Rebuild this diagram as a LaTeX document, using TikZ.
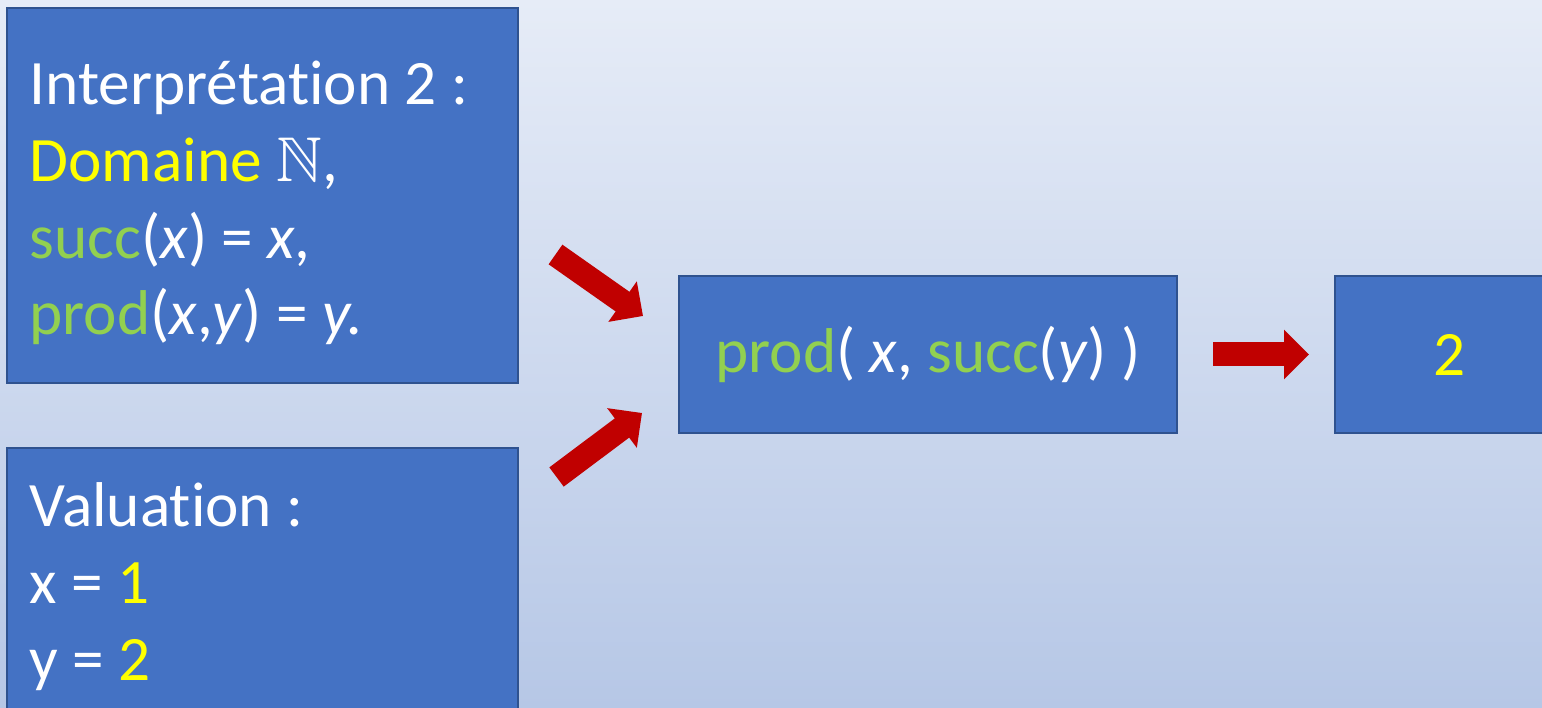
\documentclass[tikz,border=0pt]{standalone}
\usepackage{fontspec}
\setmainfont{Carlito}[Ligatures=NoCommon]
\usepackage{amssymb}
\usetikzlibrary{arrows.meta, positioning, calc}
\definecolor{boite}{HTML}{4472C4}
\definecolor{bord}{HTML}{2F528F}
\definecolor{vert}{HTML}{92D050}
\definecolor{jaune}{HTML}{FFFF00}
\definecolor{rouge}{HTML}{C00000}
\definecolor{fondhaut}{HTML}{E6ECF7}
\definecolor{fondbas}{HTML}{B6C7E6}
\newcommand{\fvert}[1]{\textcolor{vert}{#1}}
\newcommand{\fjaune}[1]{\textcolor{jaune}{#1}}
\tikzset{
    boite/.style={draw=bord, fill=boite, line width=0.6pt, inner sep=0pt, text=white},
    texte/.style={text=white, align=left, inner sep=0pt},
    fleche/.style={rouge, line width=0.24cm, -{Triangle[width=0.48cm, length=0.25cm]}},
}

\begin{document}
\begin{tikzpicture}[font=\fontsize{18}{21.9}\selectfont]
    % Fond
    \useasboundingbox (0,0) rectangle (15.42,-7.08);
    \clip (0,0) rectangle (15.42,-7.08);
    \shade[top color=fondhaut, bottom color=fondbas] (0,0) rectangle (15.42,-7.08);
    % Boites
    \node[boite, anchor=north west, minimum width=5.11cm, minimum height=3.75cm] (interp) at (0.06,-0.07) {};
    \node[texte, anchor=base west] (interptxt) at (0.29,-3.35) {Interprétation 2 :\\
        \fjaune{Domaine} $\mathbb{N}$,\\
        \fvert{succ}(\textit{x}) = \textit{x},\\
        \fvert{prod}(\textit{x},\textit{y}) = \textit{y.}};
    \node[boite, anchor=north west, minimum width=5.11cm, minimum height=3.2cm] (valu) at (0.06,-4.47) {};
    \node[texte, anchor=base west] (valutxt) at (0.29,-6.80) {Valuation :\\
        x = \fjaune{1}\\
        y = \fjaune{2}};
    \node[boite, minimum width=4.98cm, minimum height=1.57cm] (expr) at (9.28,-3.545)
        {\fvert{prod}( \textit{x}, \fvert{succ}(\textit{y}) )};
    \node[boite, minimum width=2.28cm, minimum height=1.57cm, right=1.56cm of expr] (res)
        {\fjaune{2}};
    % Fleches
    \coordinate (hautdeb) at (5.555,-2.545);
    \coordinate (hautfin) at (6.43,-3.16);
    \coordinate (basdeb) at (5.565,-4.77);
    \coordinate (basfin) at (6.42,-4.13);
    \draw[fleche] (hautdeb) -- (hautfin);
    \draw[fleche] (basdeb) -- (basfin);
    \draw[fleche, shorten <=0.35cm, shorten >=0.25cm] (expr.east) -- (res.west);
\end{tikzpicture}
\end{document}
